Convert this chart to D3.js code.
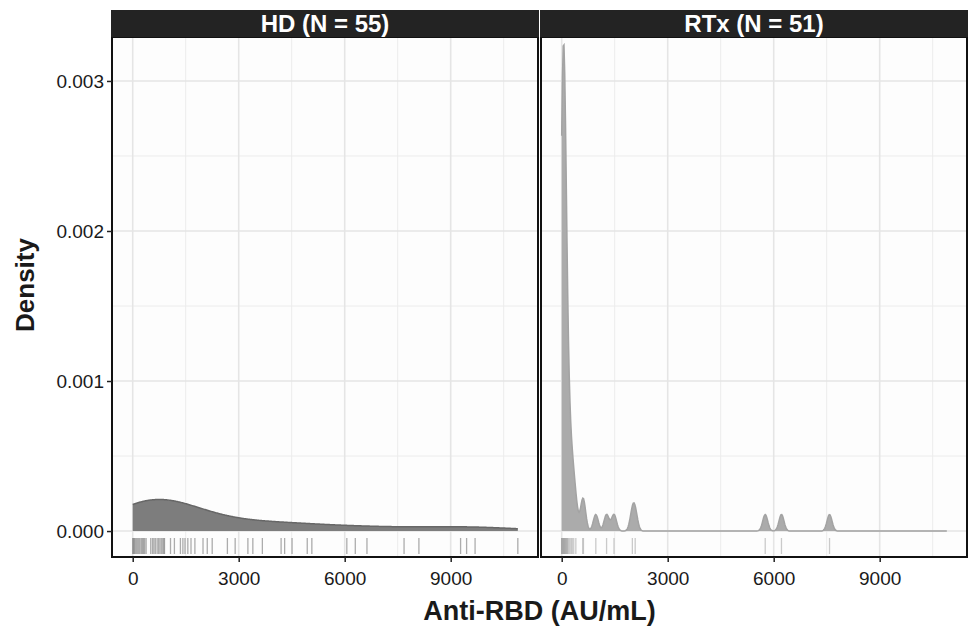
<!DOCTYPE html>
<html><head><meta charset="utf-8">
<script src="https://cdn.jsdelivr.net/npm/d3@7"></script>
<style>
html,body{margin:0;padding:0;background:#fff;}
svg{display:block;font-family:"Liberation Sans",Arial,sans-serif;}
</style></head>
<body><svg id="chart" width="968" height="627"></svg>
<script>
// ---- data ----
const categories = ["HD (N = 55)", "RTx (N = 51)"];
const hdValues = [0,20,40,60,90,120,150,180,210,250,280,310,340,380,
  510,560,600,640,690,730,770,810,850,880,900,
  1070,1180,1350,1420,1480,1560,1650,1760,1990,2110,2250,
  2680,2900,3260,3400,3670,4200,4300,4510,4940,5070,
  6060,6300,6630,7680,8100,9280,9450,9690,10900];
const rtxValues = [0,3,6,9,12,15,18,21,24,27,30,33,36,39,42,45,48,51,54,57,60,64,68,72,76,80,84,88,
  100,112,125,140,150,160,180,205,235,270,300,340,400,
  595,615,965,1270,1480,2000,2080,5760,6220,7580];
const seriesValues = [hdValues, rtxValues];
const bandwidths = [1080, 71];
const xTicks = [0, 3000, 6000, 9000];
const xMinor = [1500, 4500, 7500, 10500];
const yTicks = [0, 0.001, 0.002, 0.003];
const yTickLabels = ["0.000", "0.001", "0.002", "0.003"];
const yMinor = [0.0005, 0.0015, 0.0025];
const xTitle = "Anti-RBD (AU/mL)";
const yTitle = "Density";

// ---- layout ----
const svg = d3.select("#chart");
const panelW = 426, panelTop = 37, panelBottom = 557, stripTop = 10;
const panelLefts = [112, 541];
const fills = ["#7d7d7d", "#ababab"];
const strokes = ["#676767", "#a3a3a3"];
const rugColors = ["#777777", "#a8a8a8"];

const y = d3.scaleLinear().domain([-0.000173, 0.003293]).range([panelBottom, panelTop]);

const allVals = hdValues.concat(rtxValues);
const lo = d3.min(allVals), hi = d3.max(allVals);
const gridPts = d3.range(512).map(i => lo + (hi - lo) * i / 511);

function kde(vals, h) {
  const n = vals.length, c = 1 / (n * h * Math.sqrt(2 * Math.PI));
  return gridPts.map(g => [g, c * d3.sum(vals, v => Math.exp(-0.5 * ((g - v) / h) ** 2))]);
}

categories.forEach((cat, i) => {
  const L = panelLefts[i];
  const x = d3.scaleLinear().domain([-586, 11471]).range([L, L + panelW]);
  const g = svg.append("g");
  g.append("rect").attr("x", L).attr("y", panelTop).attr("width", panelW)
    .attr("height", panelBottom - panelTop).attr("fill", "#fdfdfd");
  // minor grid
  g.selectAll(".vxm").data(xMinor).join("line")
    .attr("x1", d => x(d)).attr("x2", d => x(d)).attr("y1", panelTop).attr("y2", panelBottom)
    .attr("stroke", "#ececec").attr("stroke-width", 1);
  g.selectAll(".vym").data(yMinor).join("line")
    .attr("y1", d => y(d)).attr("y2", d => y(d)).attr("x1", L).attr("x2", L + panelW)
    .attr("stroke", "#ececec").attr("stroke-width", 1);
  // major grid
  g.selectAll(".vx").data(xTicks).join("line")
    .attr("x1", d => x(d)).attr("x2", d => x(d)).attr("y1", panelTop).attr("y2", panelBottom)
    .attr("stroke", "#e5e5e5").attr("stroke-width", 1.6);
  g.selectAll(".vy").data(yTicks).join("line")
    .attr("y1", d => y(d)).attr("y2", d => y(d)).attr("x1", L).attr("x2", L + panelW)
    .attr("stroke", "#e5e5e5").attr("stroke-width", 1.6);
  // density
  const dens = kde(seriesValues[i], bandwidths[i]);
  const area = d3.area().x(d => x(d[0])).y0(y(0)).y1(d => y(d[1]));
  const line = d3.line().x(d => x(d[0])).y(d => y(d[1]));
  g.append("path").attr("d", area(dens)).attr("fill", fills[i]);
  g.append("path").attr("d", line(dens)).attr("fill", "none").attr("stroke", strokes[i]).attr("stroke-width", 1.5);
  // rug
  g.selectAll(".rug").data(seriesValues[i]).join("line")
    .attr("x1", d => x(d)).attr("x2", d => x(d)).attr("y1", 538).attr("y2", 554)
    .attr("stroke", rugColors[i]).attr("stroke-opacity", 0.6).attr("stroke-width", 1.3);
  // border
  g.append("rect").attr("x", L).attr("y", panelTop).attr("width", panelW)
    .attr("height", panelBottom - panelTop).attr("fill", "none").attr("stroke", "#111").attr("stroke-width", 2);
  // strip
  g.append("rect").attr("x", L - 1).attr("y", stripTop).attr("width", panelW + 2)
    .attr("height", panelTop - stripTop).attr("fill", "#232323");
  g.append("text").attr("x", L + panelW / 2).attr("y", 32).attr("text-anchor", "middle")
    .attr("fill", "#fff").attr("font-weight", "bold").attr("font-size", 24).text(cat);
  // x axis
  const ax = g.append("g").attr("transform", `translate(0,${panelBottom})`)
    .call(d3.axisBottom(x).tickValues(xTicks).tickFormat(d3.format("d")).tickSizeOuter(0).tickSize(5).tickPadding(10));
  ax.select(".domain").remove();
  ax.selectAll("line").attr("stroke", "#222").attr("stroke-width", 1.5);
  ax.selectAll("text").attr("font-size", 19).attr("fill", "#1a1a1a")
    .attr("font-family", "Liberation Sans, Arial, sans-serif");
  if (i === 0) {
    const ay = g.append("g").attr("transform", `translate(${L},0)`)
      .call(d3.axisLeft(y).tickValues(yTicks).tickFormat((d, k) => yTickLabels[k]).tickSize(5).tickPadding(3));
    ay.select(".domain").remove();
    ay.selectAll("line").attr("stroke", "#222").attr("stroke-width", 1.5);
    ay.selectAll("text").attr("font-size", 19).attr("fill", "#1a1a1a")
      .attr("font-family", "Liberation Sans, Arial, sans-serif");
  }
});

svg.append("text").attr("x", 539.5).attr("y", 620).attr("text-anchor", "middle")
  .attr("font-weight", "bold").attr("font-size", 27).attr("fill", "#1a1a1a").text(xTitle);
svg.append("text").attr("transform", "translate(34,285) rotate(-90)").attr("text-anchor", "middle")
  .attr("font-weight", "bold").attr("font-size", 26).attr("fill", "#1a1a1a").text(yTitle);
</script></body></html>
